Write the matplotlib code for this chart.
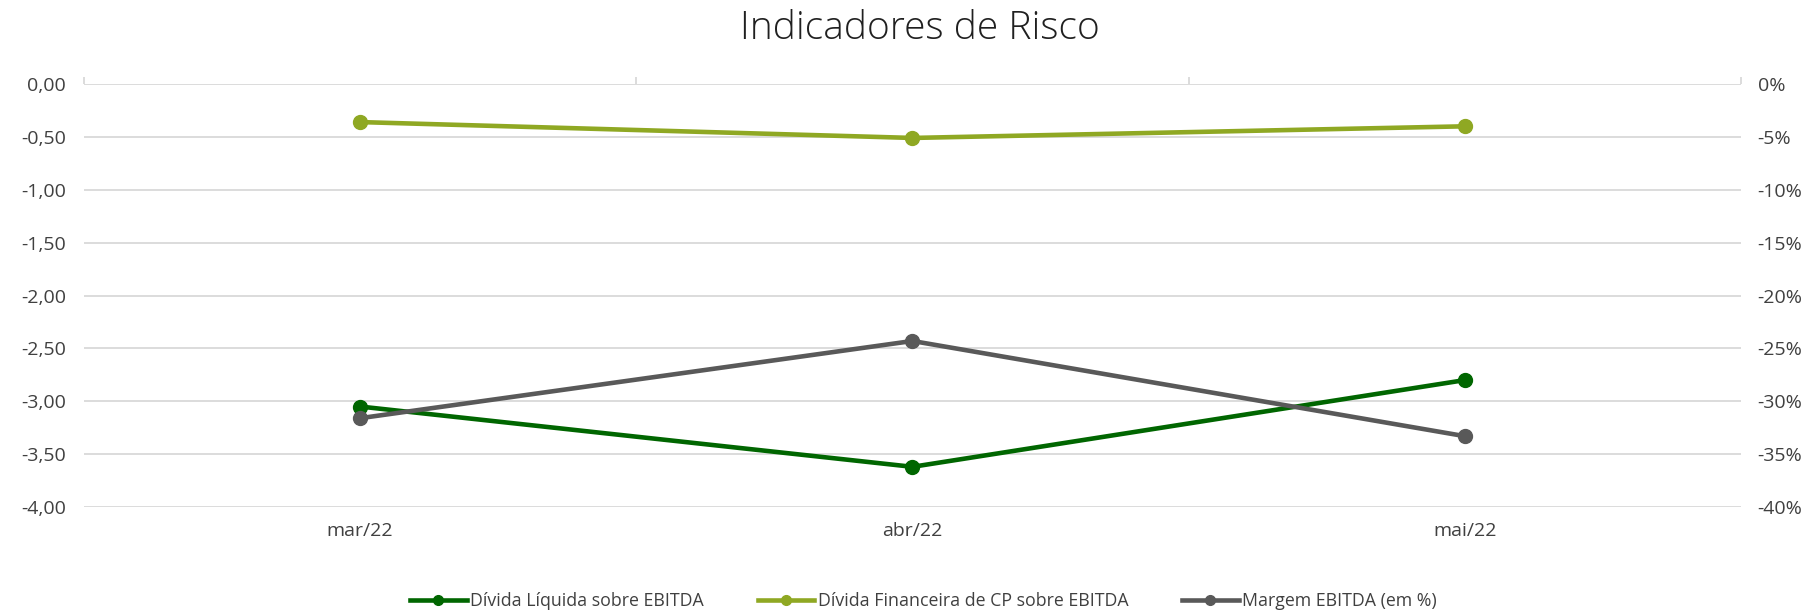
import matplotlib
matplotlib.use("Agg")
import matplotlib.pyplot as plt
from matplotlib.ticker import FuncFormatter, FixedLocator

plt.rcParams['font.family'] = ['Open Sans', 'DejaVu Sans']

# dados
meses = ["mar/22", "abr/22", "mai/22"]
div_liquida = [-3.05, -3.62, -2.80]       # eixo esquerdo
div_fin_cp = [-0.36, -0.51, -0.40]        # eixo esquerdo
margem_ebitda = [-31.6, -24.3, -33.3]     # eixo direito, em %

c_escuro = "#006600"
c_claro = "#8FA823"
c_cinza = "#595959"
c_grid = "#D9D9D9"
c_texto = "#404040"

fig = plt.figure(figsize=(18.11, 6.11), dpi=100)
ax = fig.add_axes([0.0464, 0.1702, 0.9149, 0.6923])
ax2 = ax.twinx()

x = list(range(len(meses)))
l1, = ax.plot(x, div_liquida, color=c_escuro, lw=3.3, marker="o", ms=10,
              label="Dívida Líquida sobre EBITDA")
l2, = ax.plot(x, div_fin_cp, color=c_claro, lw=3.3, marker="o", ms=10,
              label="Dívida Financeira de CP sobre EBITDA")
l3, = ax2.plot(x, margem_ebitda, color=c_cinza, lw=3.3, marker="o", ms=10,
               label="Margem EBITDA (em %)")

ax.set_xlim(-0.5, 2.5)
ax.set_ylim(-4, 0)
ax2.set_ylim(-40, 0)
ax.set_yticks([-4 + 0.5 * i for i in range(9)])
ax2.set_yticks([-40 + 5 * i for i in range(9)])
ax.yaxis.set_major_formatter(FuncFormatter(lambda v, p: f"{v:.2f}".replace(".", ",").replace("-0,00", "0,00")))
ax2.yaxis.set_major_formatter(FuncFormatter(lambda v, p: f"{v:.0f}%".replace("-0%", "0%")))

ax.grid(axis="y", color=c_grid, lw=1.3)
ax.set_axisbelow(True)
for a in (ax, ax2):
    for s in a.spines.values():
        s.set_visible(False)
    a.tick_params(axis="y", length=0, labelsize=14, colors=c_texto)
ax.tick_params(axis="y", pad=13)
ax2.tick_params(axis="y", pad=12)

ax.set_xticks(x)
ax.set_xticklabels(meses)
ax.tick_params(axis="x", which="major", length=0, labelsize=14, colors=c_texto, pad=11)
ax.xaxis.set_minor_locator(FixedLocator([-0.5, 0.5, 1.5, 2.5]))
ax.tick_params(axis="x", which="minor", bottom=False, top=True, direction="out",
               length=5, width=1.3, color=c_grid)
ax2.set_zorder(ax.get_zorder() + 1)

fig.suptitle("Indicadores de Risco", x=0.508, y=0.953, fontsize=28, color="#202020",
             fontweight="light", va="center")

fig.legend(handles=[l1, l2, l3], loc="center", bbox_to_anchor=(0.51, 0.016),
           ncol=3, frameon=False, fontsize=12.8, handlelength=3.2,
           handletextpad=0.2, columnspacing=3.0, markerscale=0.7,
           labelcolor=c_texto)

fig.savefig("out.png", dpi=100)
